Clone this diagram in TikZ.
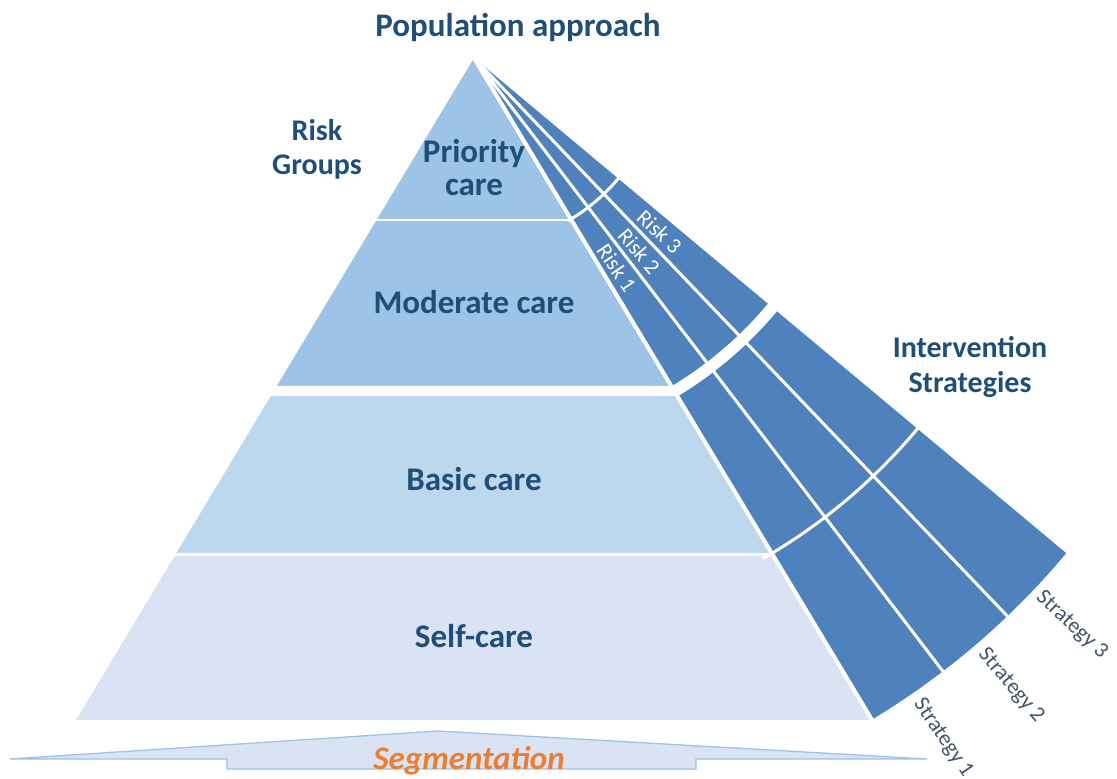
\documentclass[tikz,border=0pt]{standalone}
\usepackage{fontspec}
\setmainfont{Carlito}
\usetikzlibrary{calc}

\definecolor{toplayer}{HTML}{9DC3E6}
\definecolor{midlayer}{HTML}{BDD7EE}
\definecolor{baselayer}{HTML}{DAE3F3}
\definecolor{fanblue}{HTML}{4F81BD}
\definecolor{textblue}{HTML}{1F4E79}
\definecolor{stratgray}{HTML}{44546A}
\definecolor{segorange}{HTML}{ED7D31}

\tikzset{
  heading/.style={text=textblue, font=\bfseries\fontsize{30}{34}\selectfont, inner sep=0pt, align=center},
  layertext/.style={text=textblue, font=\bfseries\fontsize{33}{33}\selectfont, inner sep=0pt, align=center},
  risklabel/.style={text=white, font=\fontsize{22}{24}\selectfont, inner sep=0pt},
  stratlabel/.style={text=stratgray, font=\fontsize{22}{25}\selectfont, inner sep=0pt},
  separator/.style={white, line width=3pt},
}

\begin{document}
\begin{tikzpicture}[x=1pt, y=-1pt]
\useasboundingbox (0,0) rectangle (1117,779);

\coordinate (apex) at (474,58);
\coordinate (baseL) at (76,720);
\coordinate (baseR) at (872,720);

% pyramid layers, clipped to the triangle
\begin{scope}
  \clip (apex) -- (baseL) -- (baseR) -- cycle;
  \fill[toplayer]  (0,40)  rectangle (1117,219);
  \fill[toplayer]  (0,221) rectangle (1117,386);
  \fill[midlayer]  (0,396) rectangle (1117,553);
  \fill[baselayer] (0,556) rectangle (1117,720);
\end{scope}

% fan of intervention strategies
\fill[fanblue] (apex) -- ($(apex)+(59:383)$) arc[start angle=59, end angle=39.9, radius=383] -- cycle;
\fill[fanblue] ($(apex)+(59:395)$) arc[start angle=59, end angle=39.9, radius=395]
  -- ($(apex)+(39.9:772)$) arc[start angle=39.9, end angle=59, radius=772] -- cycle;

% white separators of the fan
\draw[white, line width=4pt] (apex) -- ($(apex)+(58.98:790)$);
\draw[separator] (apex) -- ($(apex)+(52.6:790)$);
\draw[separator] (apex) -- ($(apex)+(46.3:790)$);
\draw[separator] ($(apex)+(60:188)$) arc[start angle=60, end angle=39, radius=188];
\draw[separator] ($(apex)+(60:578)$) arc[start angle=60, end angle=39, radius=578];

% risk labels along the strips
\node[risklabel, rotate=-55.8] (risk1) at ($(apex)+(55.8:254)$) {Risk 1};
\node[risklabel, rotate=-49.45] (risk2) at ($(apex)+(49.45:254)$) {Risk 2};
\node[risklabel, rotate=-43.1] (risk3) at ($(apex)+(43.1:254)$) {Risk 3};

% strategy labels beyond the fan
\node[stratlabel, rotate=-55.8] (strat1) at ($(apex)+(55.4:826)$) {Strategy 1};
\node[stratlabel, rotate=-49.45] (strat2) at ($(apex)+(49.45:826)$) {Strategy 2};
\node[stratlabel, rotate=-43.1] (strat3) at ($(apex)+(43.5:824)$) {Strategy 3};

% segmentation base
\draw[fill=baselayer, draw=toplayer, line width=1.3pt, line join=miter]
  (10,759) -- (438,731) -- (927,759) -- (696,759) -- (696,769)
  -- (227,769) -- (227,759) -- cycle;

% texts (multi-line nodes are anchored at the baseline of their last line)
\node[heading, font=\bfseries\fontsize{33}{36}\selectfont, anchor=base] (title) at (518,36) {Population approach};
\node[layertext, anchor=base] (priority) at (474,195) {Priority\\care};
\node[layertext, anchor=base] (moderate) at (474,313) {Moderate care};
\node[layertext, anchor=base] (basic) at (474,490) {Basic care};
\node[layertext, anchor=base] (self) at (474,647) {Self-care};
\node[heading, font=\bfseries\fontsize{30}{34}\selectfont, anchor=base] (riskgroups) at (317,174) {Risk\\Groups};
\node[heading, font=\bfseries\fontsize{30}{35}\selectfont, anchor=base] (interv) at (970,392) {Intervention\\Strategies};
\node[text=segorange, font=\bfseries\itshape\fontsize{33}{36}\selectfont, inner sep=0pt, anchor=base] (seg) at (469,769) {Segmentation};
\end{tikzpicture}
\end{document}
